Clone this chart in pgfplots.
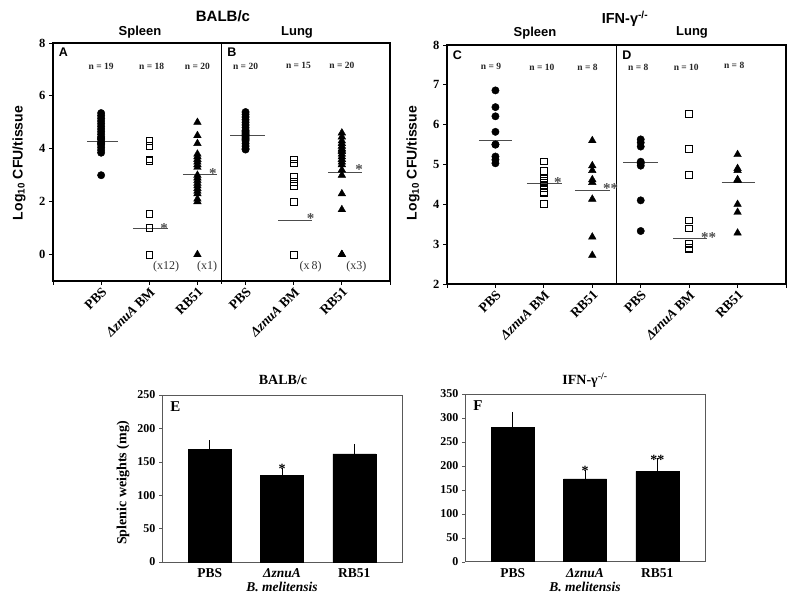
\documentclass[border=0pt]{standalone}
\usepackage{fontspec}
\setmainfont{Liberation Serif}
\setsansfont{Liberation Sans}
\usepackage{pgfplots}
\pgfplotsset{compat=1.18}
\tikzset{
  mystar/.style={anchor=base, inner sep=0pt, text=black!70, font=\bfseries\fontsize{15}{15}\selectfont},
  mynlab/.style={font=\bfseries\fontsize{9.5}{10}\selectfont, text=black!85},
}
\pgfplotsset{
  scat/.style={scale only axis, clip=false, xmin=0, xmax=7, xtick={0,...,7},
    xticklabels={,PBS,{{\itshape ΔznuA} BM},RB51,PBS,{{\itshape ΔznuA} BM},RB51,},
    tick align=outside, major tick length=4pt,
    axis line style={line width=1.6pt}, tick style={black, line width=0.8pt},
    xticklabel style={rotate=45, anchor=north east, inner sep=1pt, font=\bfseries\fontsize{13.5}{14}\selectfont},
    yticklabel style={font=\bfseries\fontsize{12.5}{13}\selectfont},
    /pgf/number format/assume math mode=true, ytick pos=left, xtick pos=bottom},
  circ/.style={only marks, mark=*, mark size=3.7pt, black},
  sq/.style={only marks, mark=square, mark size=3.4pt, mark options={black, line width=0.6pt}},
  tri/.style={only marks, mark=triangle*, mark size=4.4pt, black},
  mline/.style={black!70, line width=0.8pt},
  bars/.style={scale only axis, clip=false, xmin=0.34, xmax=3.66, xtick={1,2,3},
    xticklabels={PBS,{{\itshape ΔznuA}\\{\itshape B. melitensis}},RB51},
    xticklabel style={align=center, font=\bfseries\fontsize{13.5}{14}\selectfont},
    yticklabel style={font=\bfseries\fontsize{12}{13}\selectfont},
    /pgf/number format/assume math mode=true,
    tick align=outside, major tick length=3pt, ytick pos=left, xtick pos=bottom,
    major x tick style={draw=none}, axis line style={gray!70!black, line width=0.7pt},
    tick style={gray!70!black}},
}
\begin{document}
\begin{tikzpicture}
\path[use as bounding box] (0,0) rectangle (795pt,599pt);
% titles
\node[font=\sffamily\bfseries\fontsize{15}{17}\selectfont] at (223pt,583pt) {BALB/c};
\node[font=\sffamily\bfseries\fontsize{13}{15}\selectfont] at (140pt,567pt) {Spleen};
\node[font=\sffamily\bfseries\fontsize{13}{15}\selectfont] at (297pt,567pt) {Lung};
\node[font=\sffamily\bfseries\fontsize{14.5}{16}\selectfont] at (625pt,580pt) {IFN-γ\textsuperscript{-/-}};
\node[font=\sffamily\bfseries\fontsize{13}{15}\selectfont] at (535pt,566pt) {Spleen};
\node[font=\sffamily\bfseries\fontsize{13}{15}\selectfont] at (692pt,567pt) {Lung};
\node[rotate=90, font=\sffamily\bfseries\fontsize{14}{16}\selectfont] at (19pt,436pt) {Log\textsubscript{10} CFU/tissue};
\node[rotate=90, font=\sffamily\bfseries\fontsize{14}{16}\selectfont] at (413pt,436pt) {Log\textsubscript{10} CFU/tissue};
\node[font=\bfseries\fontsize{14}{15}\selectfont] at (283pt,219pt) {BALB/c};
\node[font=\bfseries\fontsize{14}{15}\selectfont] at (585pt,219pt) {IFN-γ\textsuperscript{-/-}};
\node[rotate=90, font=\bfseries\fontsize{14}{16}\selectfont] at (123pt,116pt) {Splenic weights (mg)};

% ---------- A / B ----------
\begin{axis}[scat, at={(53pt,318pt)}, anchor=south west, width=337pt, height=238pt,
  ymin=-1, ymax=8, ytick={0,2,...,8}]
\addplot[circ] coordinates {(1,5.35)(1,5.25)(1,5.15)(1,5.05)(1,4.95)(1,4.85)(1,4.75)(1,4.65)(1,4.55)(1,4.45)(1,4.35)(1,4.25)(1,4.15)(1,4.05)(1,3.95)(1,3.85)(1,4.4)(1,4.2)(1,3.0)};
\addplot[sq] coordinates {(2,4.3)(2,4.1)(2,3.6)(2,3.55)(2,1.55)(2,1.0)(2,0)(2,0)(2,0)(2,0)(2,0)(2,0)(2,0)(2,0)(2,0)(2,0)(2,0)(2,0)};
\addplot[tri] coordinates {(3,5.0)(3,4.5)(3,4.2)(3,3.8)(3,3.7)(3,3.6)(3,3.5)(3,3.4)(3,3.3)(3,3.0)(3,2.9)(3,2.8)(3,2.7)(3,2.6)(3,2.5)(3,2.4)(3,2.3)(3,2.1)(3,2.0)(3,0)};
\addplot[circ] coordinates {(4,5.39)(4,5.3)(4,5.2)(4,5.1)(4,5.0)(4,4.9)(4,4.8)(4,4.7)(4,4.6)(4,4.5)(4,4.4)(4,4.3)(4,4.2)(4,4.1)(4,4.0)(4,3.97)(4,4.55)(4,4.65)(4,4.45)(4,4.35)};
\addplot[sq] coordinates {(5,3.6)(5,3.45)(5,3.45)(5,2.95)(5,2.75)(5,2.6)(5,2.0)(5,0)(5,0)(5,0)(5,0)(5,0)(5,0)(5,0)(5,0)};
\addplot[tri] coordinates {(6,4.6)(6,4.45)(6,4.3)(6,4.2)(6,4.1)(6,4.0)(6,3.95)(6,3.9)(6,3.8)(6,3.7)(6,3.6)(6,3.5)(6,3.4)(6,3.2)(6,3.0)(6,2.3)(6,1.7)(6,0)(6,0)(6,0)};
% mean lines
\addplot[mline] coordinates {(0.71,4.28)(1.35,4.28)};
\addplot[mline] coordinates {(1.66,0.98)(2.39,0.98)};
\addplot[mline] coordinates {(2.70,3.02)(3.41,3.02)};
\addplot[mline] coordinates {(3.68,4.52)(4.41,4.52)};
\addplot[mline] coordinates {(4.68,1.30)(5.38,1.30)};
\addplot[mline] coordinates {(5.72,3.12)(6.42,3.12)};
\addplot[black, line width=1.2pt] coordinates {(3.5,-1.1)(3.5,8)};
\node[mystar] at (axis cs:2.31,0.81) {*};
\node[mystar] at (axis cs:3.32,2.86) {*};
\node[mystar] at (axis cs:5.35,1.16) {*};
\node[mystar] at (axis cs:6.36,3.04) {*};
\node[font=\fontsize{12}{12}\selectfont, text=black!80] at (axis cs:2.35,-0.45) {(x12)};
\node[font=\fontsize{12}{12}\selectfont, text=black!80] at (axis cs:3.2,-0.45) {(x1)};
\node[font=\fontsize{12}{12}\selectfont, text=black!80] at (axis cs:5.35,-0.45) {(x\,8)};
\node[font=\fontsize{12}{12}\selectfont, text=black!80] at (axis cs:6.3,-0.45) {(x3)};
\node[mynlab] at (axis cs:1,7.1) {n = 19};
\node[mynlab] at (axis cs:2.05,7.1) {n = 18};
\node[mynlab] at (axis cs:3.0,7.1) {n = 20};
\node[mynlab] at (axis cs:4.0,7.1) {n = 20};
\node[mynlab] at (axis cs:5.1,7.15) {n = 15};
\node[mynlab] at (axis cs:6.0,7.15) {n = 20};
\node[anchor=north west, font=\sffamily\bfseries\fontsize{12.5}{14}\selectfont] at (axis cs:0.05,7.95) {A};
\node[anchor=north west, font=\sffamily\bfseries\fontsize{12.5}{14}\selectfont] at (axis cs:3.55,7.95) {B};
\end{axis}

% ---------- C / D ----------
\begin{axis}[scat, at={(447pt,315pt)}, anchor=south west, width=339pt, height=239pt,
  ymin=2, ymax=8, ytick={2,...,8}]
\addplot[circ] coordinates {(1,6.86)(1,6.44)(1,6.21)(1,5.82)(1,5.5)(1,5.5)(1,5.2)(1,5.12)(1,5.03)};
\addplot[sq] coordinates {(2,5.08)(2,4.85)(2,4.65)(2,4.55)(2,4.5)(2,4.4)(2,4.3)(2,4.28)(2,4.6)(2,4.02)};
\addplot[tri] coordinates {(3,5.6)(3,4.97)(3,4.85)(3,4.62)(3,4.55)(3,4.13)(3,3.18)(3,2.72)};
\addplot[circ] coordinates {(4,5.63)(4,5.55)(4,5.45)(4,5.07)(4,5.03)(4,4.97)(4,4.10)(4,3.33)};
\addplot[sq] coordinates {(5,6.28)(5,5.4)(5,4.74)(5,3.6)(5,3.4)(5,3.0)(5,2.87)(5,2.87)(5,3.0)(5,2.9)};
\addplot[tri] coordinates {(6,5.25)(6,4.9)(6,4.85)(6,4.62)(6,4.6)(6,4.0)(6,3.8)(6,3.28)};
\addplot[mline] coordinates {(0.66,5.61)(1.34,5.61)};
\addplot[mline] coordinates {(1.65,4.52)(2.37,4.52)};
\addplot[mline] coordinates {(2.64,4.34)(3.37,4.34)};
\addplot[mline] coordinates {(3.64,5.05)(4.35,5.05)};
\addplot[mline] coordinates {(4.67,3.14)(5.37,3.14)};
\addplot[mline] coordinates {(5.67,4.54)(6.36,4.54)};
\addplot[black, line width=1.2pt] coordinates {(3.5,2)(3.5,8)};
\node[mystar] at (axis cs:2.29,4.41) {*};
\node[mystar] at (axis cs:3.38,4.28) {**};
\node[mystar] at (axis cs:5.4,3.04) {**};
\node[mynlab] at (axis cs:0.91,7.45) {n = 9};
\node[mynlab] at (axis cs:1.96,7.45) {n = 10};
\node[mynlab] at (axis cs:2.9,7.45) {n = 8};
\node[mynlab] at (axis cs:3.95,7.45) {n = 8};
\node[mynlab] at (axis cs:4.94,7.45) {n = 10};
\node[mynlab] at (axis cs:5.93,7.48) {n = 8};
\node[anchor=north west, font=\sffamily\bfseries\fontsize{12.5}{14}\selectfont] at (axis cs:0.05,7.95) {C};
\node[anchor=north west, font=\sffamily\bfseries\fontsize{12.5}{14}\selectfont] at (axis cs:3.55,7.95) {D};
\end{axis}

% ---------- E ----------
\begin{axis}[bars, at={(162pt,37pt)}, anchor=south west, width=240pt, height=167pt,
  ymin=0, ymax=250, ytick={0,50,...,250}]
\addplot[ybar, bar width=43pt, fill=black, draw=black,
  error bars/.cd, y dir=plus, y explicit, error bar style={black, line width=0.6pt},
  error mark options={black, mark size=4pt, line width=0.6pt}]
  coordinates {(1,168.5) +- (0,7.5) (2,129.8) +- (0,4.2) (3,161.7) +- (0,9.3)};
\node[anchor=base, inner sep=0pt, font=\bfseries\fontsize{14}{14}\selectfont] at (axis cs:2,132) {*};
\node[anchor=north west, font=\bfseries\fontsize{15}{16}\selectfont] at (rel axis cs:0.02,0.98) {E};
\end{axis}

% ---------- F ----------
\begin{axis}[bars, at={(465pt,37.3pt)}, anchor=south west, width=240pt, height=167.7pt,
  ymin=0, ymax=350, ytick={0,50,...,350}]
\addplot[ybar, bar width=43pt, fill=black, draw=black,
  error bars/.cd, y dir=plus, y explicit, error bar style={black, line width=0.6pt},
  error mark options={black, mark size=4pt, line width=0.6pt}]
  coordinates {(1,280.4) +- (0,24) (2,172.6) +- (0,11.4) (3,188.6) +- (0,19.4)};
\node[anchor=base, inner sep=0pt, font=\bfseries\fontsize{14}{14}\selectfont] at (axis cs:2,179.5) {*};
\node[anchor=base, inner sep=0pt, font=\bfseries\fontsize{14}{14}\selectfont] at (axis cs:3,203) {**};
\node[anchor=north west, font=\bfseries\fontsize{15}{16}\selectfont] at (rel axis cs:0.02,0.98) {F};
\end{axis}
\end{tikzpicture}
\end{document}
